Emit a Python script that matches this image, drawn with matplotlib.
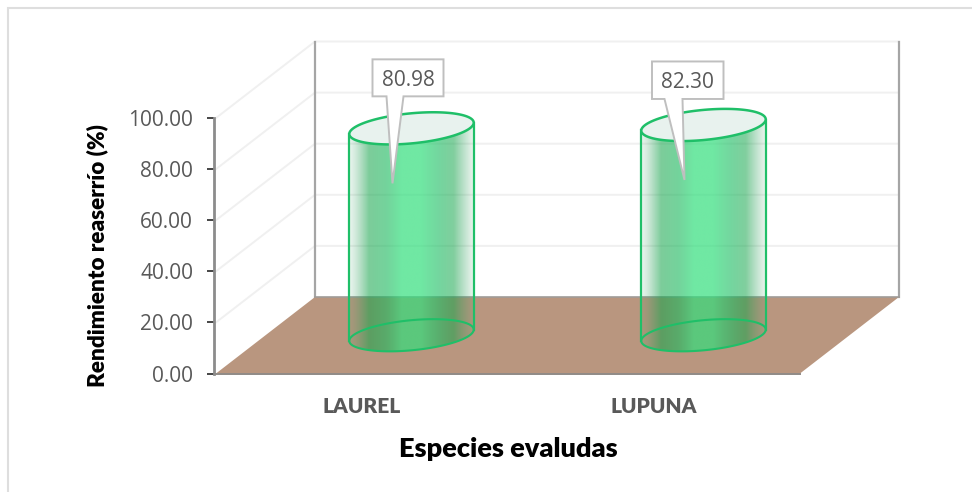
import numpy as np
import matplotlib
matplotlib.use("Agg")
import matplotlib.pyplot as plt
from matplotlib.lines import Line2D
from matplotlib.patches import Polygon

categories = ["LAUREL", "LUPUNA"]
values = [80.98, 82.30]
value_labels = ["80.98", "82.30"]
y_ticks = [0, 20, 40, 60, 80, 100]
y_tick_labels = ["0.00", "20.00", "40.00", "60.00", "80.00", "100.00"]
x_title = "Especies evaludas"
y_title = "Rendimiento reaserrío (%)"

W, H = 972, 492
AX_L, AX_R, AX_T, AX_B = 216.0, 800.0, 118.0, 373.5
fig = plt.figure(figsize=(W / 100, H / 100), dpi=100)
fig.patch.set_facecolor("white")
fig.add_artist(Line2D([7.5 / W, 7.5 / W, 971 / W], [0, 1 - 8 / H, 1 - 8 / H], transform=fig.transFigure,
                      color="#dedede", lw=1.5, solid_joinstyle="miter"))
ax = fig.add_axes([AX_L / W, 1 - AX_B / H, (AX_R - AX_L) / W, (AX_B - AX_T) / H])
ax.patch.set_visible(False)

SX = (AX_R - AX_L) / 2.0
SY = (AX_B - AX_T) / 100.0
DEPTH_X, DEPTH_Y = 99.0, 76.5


def off(x, y, dx_px=0.0, dy_px=0.0):
    return x + dx_px / SX, y + dy_px / SY


def depth_pt(x, y, d):
    return off(x, y, DEPTH_X * d, DEPTH_Y * d)


def poly(pts, **kw):
    p = Polygon(pts, closed=True, clip_on=False, **kw)
    ax.add_patch(p)
    return p


def line(pts, **kw):
    xs, ys = zip(*pts)
    ax.plot(xs, ys, clip_on=False, **kw)


# gridlines on the two walls
L, R = -0.5, 1.5
for t in y_ticks[1:]:
    line([(L, t), depth_pt(L, t, 1), depth_pt(R, t, 1)], color="#f0f0f0", lw=1.4, zorder=1,
         solid_joinstyle="miter")

# back wall verticals
line([depth_pt(L, 0, 1), depth_pt(L, 100, 1)], color="#a5a5a5", lw=1.6, zorder=2)
line([depth_pt(R, 0, 1), depth_pt(R, 100, 1)], color="#a5a5a5", lw=1.6, zorder=2)

# floor
poly([(L, 0), (R, 0), depth_pt(R, 0, 1), depth_pt(L, 0, 1)], fc="#b9967f", ec="none", zorder=3)
line([(L, 0), (R, 0)], color="#8f8a86", lw=1.4, zorder=3.5)
line([depth_pt(L, 0, 1), depth_pt(R, 0, 1)], color="#a09c98", lw=1.2, zorder=3.5)

# cylinders
A, B, TILT = 62.5, 15.0, np.deg2rad(5.5)
theta = np.linspace(0, 2 * np.pi, 181)
STOPS = [(0.0, (60, 160, 100), 0.10), (0.05, (50, 160, 95), 0.22), (0.16, (20, 165, 75), 0.56),
         (0.30, (30, 185, 95), 0.62), (0.42, (50, 222, 124), 0.70), (0.58, (50, 222, 124), 0.70),
         (0.72, (30, 190, 100), 0.62), (0.84, (20, 165, 75), 0.54), (0.95, (50, 160, 95), 0.24),
         (1.0, (60, 160, 100), 0.10)]
EDGE = "#1fbf68"


def ellipse(cx, cy):
    ex = A * np.cos(theta)
    ey = B * np.sin(theta)
    px = ex * np.cos(TILT) - ey * np.sin(TILT)
    py = ex * np.sin(TILT) + ey * np.cos(TILT)
    return np.column_stack([cx + px / SX, cy + py / SY])


grad_pos = np.linspace(0, 1, 256)
grad = np.zeros((1, 256, 4))
for c in range(3):
    grad[0, :, c] = np.interp(grad_pos, [s[0] for s in STOPS], [s[1][c] / 255 for s in STOPS])
grad[0, :, 3] = np.interp(grad_pos, [s[0] for s in STOPS], [s[2] for s in STOPS])

callouts = [
    dict(box=(-39, 32, 71, 37), base=(-25, -8), tip=(-19, -55)),
    dict(box=(-51.5, 26, 71.5, 37.5), base=(-39, -21), tip=(-19, -55)),
]

for i, (v, lab) in enumerate(zip(values, value_labels)):
    cx, cy0 = depth_pt(i, 0, 0.5)
    cy1 = v + cy0
    bot = ellipse(cx, cy0)
    top = ellipse(cx, cy1)
    left_x, right_x = bot[:, 0].min(), bot[:, 0].max()
    lower = bot[np.sin(theta) <= 0]
    lower = lower[np.argsort(lower[:, 0])]
    upper = top[np.sin(theta) >= 0]
    upper = upper[np.argsort(upper[:, 0])]
    body_pts = np.vstack([lower, upper[::-1]])
    clip = poly(body_pts, fc="none", ec="none", zorder=4)
    im = ax.imshow(grad, extent=(left_x, right_x, cy0 - 2 * B / SY, cy1 + 2 * B / SY),
                   aspect="auto", interpolation="bilinear", zorder=4)
    im.set_clip_path(clip)
    poly(top, fc="#e8f2ee", ec=EDGE, lw=1.8, zorder=5)
    poly(bot, fc="none", ec=EDGE, lw=1.5, zorder=4.6)
    a = bot[np.argmin(bot[:, 0])]
    b = top[np.argmin(top[:, 0])]
    line([a, b], color=EDGE, lw=1.6, zorder=4.7)
    a = bot[np.argmax(bot[:, 0])]
    b = top[np.argmax(top[:, 0])]
    line([a, b], color=EDGE, lw=1.6, zorder=4.7)

    # callout, placed in pixels relative to the cylinder's top centre
    c = callouts[i]
    bx, by, bw, bh = c["box"]
    bt = by + bh
    pts = [off(cx, cy1, bx, by), off(cx, cy1, c["base"][0], by), off(cx, cy1, *c["tip"]),
           off(cx, cy1, c["base"][1], by), off(cx, cy1, bx + bw, by), off(cx, cy1, bx + bw, bt),
           off(cx, cy1, bx, bt)]
    poly(pts, fc="white", ec="#bfbfbf", lw=1.4, zorder=6, joinstyle="miter")
    tx, ty = off(cx, cy1, bx + bw / 2, by + bh / 2)
    ax.text(tx, ty, lab, ha="center", va="center_baseline", fontsize=15, family="Open Sans",
            color="#595959", zorder=7)

ax.set_xlim(-0.5, 1.5)
ax.set_ylim(0, 100)

# axes furniture
for s in ("top", "right", "bottom"):
    ax.spines[s].set_visible(False)
ax.spines["left"].set_position(("outward", 1.5))
ax.spines["left"].set_color("#8c8c8c")
ax.spines["left"].set_linewidth(2.0)
ax.set_yticks(y_ticks, y_tick_labels, fontsize=15, family="Open Sans", color="#595959")
ax.tick_params(axis="y", length=5, width=1.2, color="#262626", pad=10)
ax.set_xticks([0, 1], categories, fontsize=15, family="Lato", fontweight="heavy", color="#595959")
ax.tick_params(axis="x", length=0, pad=17)
ax.set_ylabel(y_title, fontsize=16.2, family="Lato", fontweight="heavy", color="black")
ax.yaxis.set_label_coords((97.5 - AX_L) / (AX_R - AX_L), (AX_B - 256) / (AX_B - AX_T))
ax.set_xlabel(x_title, fontsize=19.5, family="Lato", fontweight="heavy", color="black")
ax.xaxis.set_label_coords((508 - AX_L) / (AX_R - AX_L), (AX_B - 449) / (AX_B - AX_T))
ax.xaxis.label.set_va("center")
ax.yaxis.label.set_va("center")

fig.savefig("out.png", dpi=100, facecolor="white")
